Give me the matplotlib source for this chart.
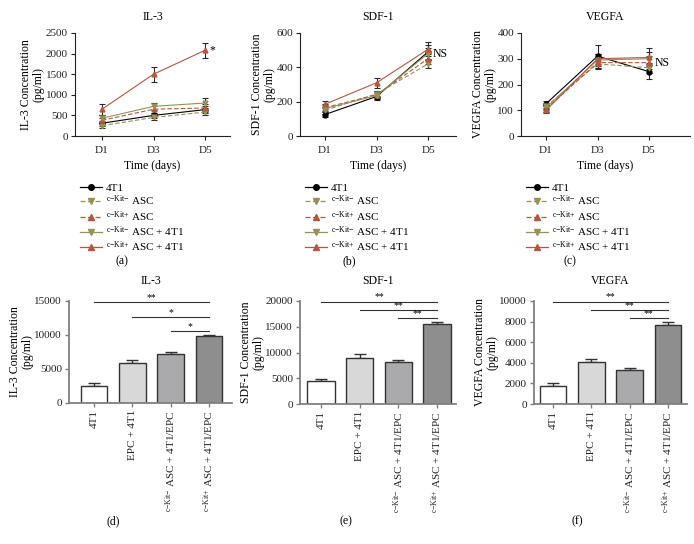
import matplotlib
matplotlib.use('Agg')
import matplotlib.pyplot as plt
from matplotlib.lines import Line2D

plt.rcParams['font.family'] = ['Liberation Serif', 'DejaVu Serif']
plt.rcParams['mathtext.fontset'] = 'custom'
plt.rcParams['mathtext.rm'] = 'Liberation Serif'
plt.rcParams['mathtext.it'] = 'Liberation Serif:italic'

W, H = 694, 544

# ---- data: time course (top row) ----
days = ['D1', 'D3', 'D5']
series_labels = [
    '4T1',
    r'$^{\mathrm{c{-}Kit{-}}}$ ASC',
    r'$^{\mathrm{c{-}Kit{+}}}$ ASC',
    r'$^{\mathrm{c{-}Kit{-}}}$ ASC + 4T1',
    r'$^{\mathrm{c{-}Kit{+}}}$ ASC + 4T1',
]

il3_means = [[310, 500, 640], [250, 450, 580], [380, 650, 680], [430, 720, 800], [650, 1500, 2080]]
il3_errs = [[60, 60, 80], [50, 50, 60], [60, 80, 90], [80, 90, 130], [130, 180, 180]]

sdf1_means = [[125, 230, 490], [150, 245, 420], [165, 240, 450], [160, 235, 480], [185, 310, 505]]
sdf1_errs = [[15, 20, 40], [20, 20, 25], [20, 20, 30], [20, 20, 35], [20, 30, 40]]

vegfa_means = [[125, 310, 250], [115, 280, 265], [105, 285, 285], [110, 295, 300], [100, 300, 305]]
vegfa_errs = [[10, 45, 30], [10, 20, 20], [10, 20, 25], [10, 25, 25], [10, 20, 35]]

# ---- data: co-culture bars (bottom row) ----
bar_labels = [
    '4T1',
    'EPC + 4T1',
    r'$^{\mathrm{c{-}Kit{-}}}$ ASC + 4T1/EPC',
    r'$^{\mathrm{c{-}Kit{+}}}$ ASC + 4T1/EPC',
]
il3_bar = [2500, 5900, 7200, 9900]
il3_bar_err = [400, 400, 280, 120]
sdf1_bar = [4400, 9000, 8100, 15450]
sdf1_bar_err = [400, 700, 400, 450]
vegfa_bar = [1790, 4100, 3260, 7690]
vegfa_bar_err = [220, 230, 240, 310]

sig_pairs = [(0, 3), (1, 3), (2, 3)]
il3_sig_y = [14850, 12650, 10600]
il3_sig_txt = ['**', '*', '*']
sdf1_sig_y = [19900, 18300, 16700]
sdf1_sig_txt = ['**', '**', '**']
vegfa_sig_y = [9950, 9130, 8350]
vegfa_sig_txt = ['**', '**', '**']

OLIVE = '#96925a'
RED = '#b5573f'
styles = [
    dict(color='black', ls='-', marker='o'),
    dict(color=OLIVE, ls='--', marker='v'),
    dict(color=RED, ls='--', marker='^'),
    dict(color=OLIVE, ls='-', marker='v'),
    dict(color=RED, ls='-', marker='^'),
]
bar_colors = ['white', '#d8d8d8', '#aaaaac', '#8e8e8e']

fig = plt.figure(figsize=(W / 100, H / 100), dpi=100)


def px_axes(l, t, r, b):
    return fig.add_axes([l / W, 1 - b / H, (r - l) / W, (b - t) / H])


def line_panel(box, first_px, last_px, means, errs, ylim, ystep, title, ylabel, legend_x, tag, tag_x, note=None):
    l, t, r, b = box
    ax = px_axes(l, t, r, b)
    x = list(range(len(days)))
    handles = []
    for m, e, st, lab in zip(means, errs, styles, series_labels):
        dashes = (4, 2) if st['ls'] == '--' else (None, None)
        ax.errorbar(x, m, yerr=e, color=st['color'], ls=st['ls'], marker=st['marker'],
                    ms=3.5, lw=0.8, ecolor='#2a2a2a', elinewidth=0.8, capsize=2,
                    capthick=0.8, dashes=dashes)
        handles.append(Line2D([], [], color=st['color'], ls=st['ls'], marker=st['marker'],
                              ms=4, lw=0.9, dashes=dashes, label=lab))
    scale = (last_px - first_px) / 2
    ax.set_xlim((l - first_px) / scale, (r - first_px) / scale)
    ax.set_ylim(*ylim)
    ax.set_yticks(range(ylim[0], ylim[1] + 1, ystep))
    ax.set_xticks(x)
    ax.set_xticklabels(days)
    for s in ['top', 'right']:
        ax.spines[s].set_visible(False)
    for s in ['left', 'bottom']:
        ax.spines[s].set_color('#222222')
        ax.spines[s].set_linewidth(0.8)
    ax.tick_params(labelsize=8, length=3, width=0.8, colors='#222222', pad=2)
    ax.tick_params(axis='x', pad=4)
    ax.set_title(title, fontsize=8.5, pad=9)
    ax.set_ylabel(ylabel, fontsize=8.5, labelpad=1, linespacing=1.05)
    ax.set_xlabel('Time (days)', fontsize=8.5, labelpad=4)
    if note is not None:
        ax.text(note[0], note[1], note[2], fontsize=8.5, ha='left', va='center')
    ax.legend(handles=handles, loc='upper left', bbox_to_anchor=(legend_x / W, 1 - 178 / H),
              bbox_transform=fig.transFigure, frameon=False, fontsize=8,
              handlelength=2.0, handletextpad=0.4, labelspacing=0.05, borderpad=0)
    fig.text(tag_x / W, 1 - 261 / H, tag, fontsize=8.5, ha='center', va='center')
    return ax


def bar_panel(box, first_px, last_px, values, errs, ylim, ystep, title, ylabel, sig_y, sig_txt, tag, tag_x):
    l, t, r, b = box
    ax = px_axes(l, t, r, b)
    x = list(range(len(values)))
    ax.bar(x, values, width=0.7, color=bar_colors, edgecolor='#333333', linewidth=1.0, zorder=2)
    ax.errorbar(x, values, yerr=[[0] * len(errs), errs], fmt='none', ecolor='#333333',
                elinewidth=1.0, capsize=4, capthick=1.0, zorder=1)
    scale = (last_px - first_px) / 3
    ax.set_xlim((l - first_px) / scale, (r - first_px) / scale)
    ax.set_ylim(*ylim)
    ax.set_yticks(range(ylim[0], ylim[1] + 1, ystep))
    ax.set_xticks(x)
    ax.set_xticklabels(bar_labels, rotation=90, fontsize=8)
    for s in ['top', 'right']:
        ax.spines[s].set_visible(False)
    for s in ['left', 'bottom']:
        ax.spines[s].set_color('#808080')
        ax.spines[s].set_linewidth(1.3)
    ax.tick_params(labelsize=8, length=3, width=1.0, colors='#808080', labelcolor='#222222', pad=2)
    ax.set_title(title, fontsize=8.5, pad=12)
    ax.set_ylabel(ylabel, fontsize=8.5, labelpad=1, linespacing=1.05)
    for (i, j), yy, txt in zip(sig_pairs, sig_y, sig_txt):
        ax.plot([i, j], [yy, yy], color='#333333', lw=0.8, clip_on=False)
        ax.text((i + j) / 2, yy, txt, fontsize=7, ha='center', va='bottom', clip_on=False)
    fig.text(tag_x / W, 1 - 521 / H, tag, fontsize=8.5, ha='center', va='center')
    return ax


line_panel((75, 33, 230, 136), 102, 205, il3_means, il3_errs, (0, 2500), 500, 'IL-3',
           'IL-3 Concentration\n(pg/ml)', 74, '(a)', 122, note=(2.08, 2080, '*'))
line_panel((300, 33, 456, 136), 325, 428, sdf1_means, sdf1_errs, (0, 600), 200, 'SDF-1',
           'SDF-1 Concentration\n(pg/ml)', 299, '(b)', 349, note=(2.08, 480, 'NS'))
line_panel((521, 33, 690, 136), 546, 649, vegfa_means, vegfa_errs, (0, 400), 100, 'VEGFA',
           'VEGFA Concentration\n(pg/ml)', 520, '(c)', 570, note=(2.1, 285, 'NS'))

bar_panel((69, 301, 232, 403), 94, 209, il3_bar, il3_bar_err, (0, 15000), 5000, 'IL-3',
          'IL-3 Concentration\n(pg/ml)', il3_sig_y, il3_sig_txt, '(d)', 113)
bar_panel((300, 301, 456, 404), 321, 437, sdf1_bar, sdf1_bar_err, (0, 20000), 5000, 'SDF-1',
          'SDF-1 Concentration\n(pg/ml)', sdf1_sig_y, sdf1_sig_txt, '(e)', 346)
bar_panel((534, 301, 687, 404), 553, 668, vegfa_bar, vegfa_bar_err, (0, 10000), 2000, 'VEGFA',
          'VEGFA Concentration\n(pg/ml)', vegfa_sig_y, vegfa_sig_txt, '(f)', 577)

fig.savefig('out.png', dpi=100)
